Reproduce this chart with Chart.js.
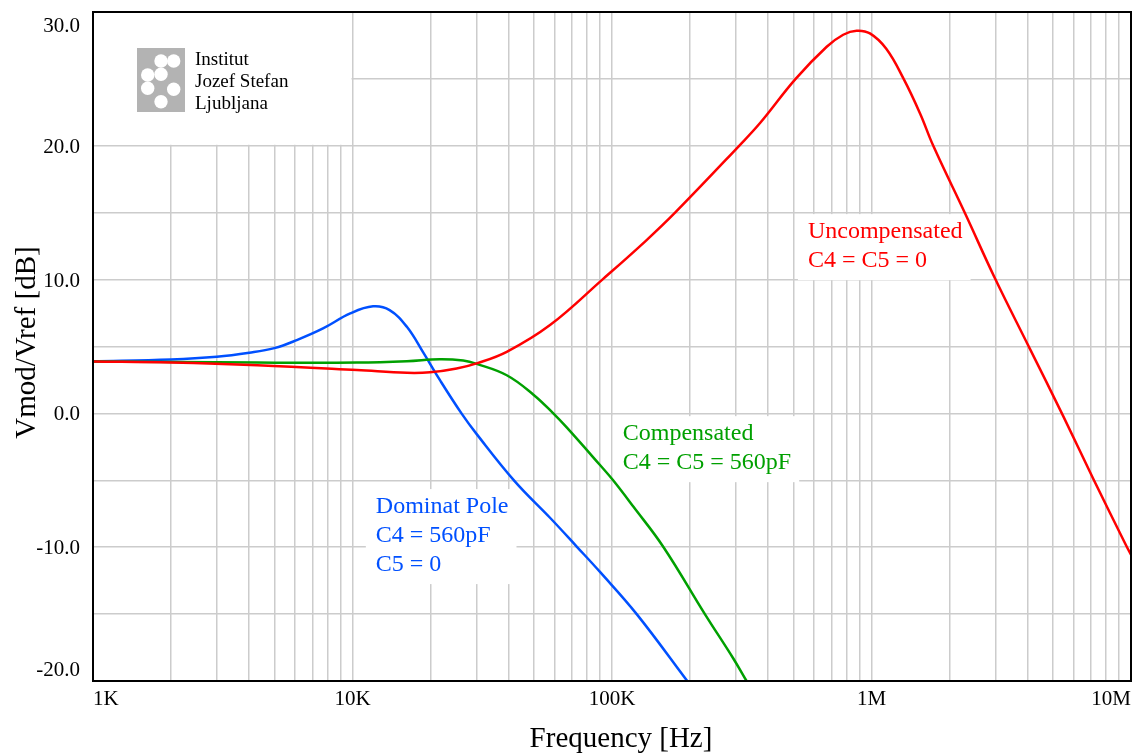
<!DOCTYPE html>
<html>
<head>
<meta charset="utf-8">
<script src="https://cdn.jsdelivr.net/npm/chart.js@4.4.1/dist/chart.umd.min.js"></script>
<style>
  html, body { margin: 0; padding: 0; background: #fff; }
</style>
</head>
<body>
<canvas id="bodeChart" width="1132" height="754"></canvas>
<script>
// Frequency response (Hz, dB)
const uncompFreq = [1e3, 2e3, 4.3e3, 1.04e4, 1.62e4, 1.99e4, 2.52e4, 3.01e4, 3.93e4, 5.77e4, 9.18e4,
  1.35e5, 1.75e5, 3.09e5, 3.72e5, 5.1e5, 6.72e5, 7.78e5, 8.76e5, 9.86e5, 1.14e6, 1.33e6, 1.54e6,
  1.73e6, 2.3e6, 2.99e6, 4.06e6, 5.48e6, 7.16e6, 9.62e6, 1e7];
const uncompDb = [3.88, 3.8, 3.6, 3.24, 3.03, 3.07, 3.36, 3.74, 4.6, 6.6, 10.0,
  12.9, 15.0, 20.0, 21.7, 25.0, 27.4, 28.3, 28.6, 28.4, 27.25, 25.0, 22.4,
  20.0, 14.9, 10.1, 4.9, -0.2, -4.9, -9.95, -10.55];

const compFreq = [1e3, 4.3e3, 1.04e4, 1.62e4, 2.17e4, 2.67e4, 3.01e4, 3.93e4, 4.98e4, 5.94e4, 6.69e4,
  8.99e4, 1.01e5, 1.21e5, 1.58e5, 2.28e5, 2.93e5, 3.3e5];
const compDb = [3.88, 3.8, 3.8, 3.9, 4.05, 3.95, 3.7, 2.85, 1.4, 0.0, -1.05,
  -3.86, -5.0, -6.98, -10.0, -15.0, -18.3, -20.0];

const domFreq = [1e3, 2e3, 3e3, 4e3, 5e3, 6.1e3, 7.7e3, 9.8e3, 1.2e4, 1.39e4, 1.62e4, 1.88e4,
  2.17e4, 2.63e4, 3.01e4, 4.23e4, 5.77e4, 7.31e4, 8.99e4, 1.245e5, 1.95e5];
const domDb = [3.9, 4.03, 4.23, 4.53, 4.88, 5.48, 6.35, 7.47, 8.0, 7.72, 6.47, 4.5,
  2.5, 0.0, -1.55, -5.1, -7.8, -9.95, -11.85, -15.0, -20.0];

// Axis ticks
const decadeTicks = [1e3, 1e4, 1e5, 1e6, 1e7];
const decadeLabels = ['1K', '10K', '100K', '1M', '10M'];
const dbLabels = [30, 20, 10, 0, -10, -20];
const dbGrid = [-20, -15, -10, -5, 0, 5, 10, 15, 20, 25, 30];

const serif = '"Liberation Serif", "Times New Roman", serif';

// Curve notes, anchored in data units (left edge of text, first baseline)
const notes = [
  { freq: 5.69e5, db: 13.1, color: '#ff0000', lines: ['Uncompensated', 'C4 = C5 = 0'] },
  { freq: 1.10e5, db: -2.0, color: '#00a000', lines: ['Compensated', 'C4 = C5 = 560pF'] },
  { freq: 1.23e4, db: -7.45, color: '#0050ff', lines: ['Dominat Pole', 'C4 = 560pF', 'C5 = 0'] }
];

function toPoints(freqs, dbs) {
  return freqs.map((f, i) => ({ x: f, y: dbs[i] }));
}

function gridFreqs() {
  const out = [];
  for (let e = 3; e < 7; e++) {
    for (let m = 1; m < 10; m++) out.push(m * Math.pow(10, e));
  }
  out.push(1e7);
  return out;
}

// Logo panel, note boxes, frame, y labels and axis titles
const decorPlugin = {
  id: 'decor',
  beforeDatasetsDraw(chart) {
    const { ctx, chartArea: a, scales: { x, y } } = chart;
    ctx.save();

    // blank panel behind the logo
    ctx.fillStyle = '#fff';
    ctx.fillRect(a.left + 1, a.top + 1, x.getPixelForValue(1e4) - a.left - 2, y.getPixelForValue(20) - a.top - 2);

    // logo
    const lx = a.left + 44, ly = a.top + 36;
    ctx.fillStyle = '#b3b3b3';
    ctx.fillRect(lx, ly, 48, 64);
    ctx.fillStyle = '#fff';
    [[24, 13], [36.7, 13], [10.7, 27], [24, 26.3], [10.7, 40.3], [36.7, 41.3], [24, 53.7]].forEach(([cx, cy]) => {
      ctx.beginPath();
      ctx.arc(lx + cx, ly + cy, 6.7, 0, Math.PI * 2);
      ctx.fill();
    });
    ctx.fillStyle = '#000';
    ctx.font = '19px ' + serif;
    ctx.textBaseline = 'alphabetic';
    ['Institut', 'Jozef Stefan', 'Ljubljana'].forEach((t, i) => ctx.fillText(t, lx + 58, ly + 17 + i * 22));

    // notes
    ctx.font = '24px ' + serif;
    notes.forEach(n => {
      const px = x.getPixelForValue(n.freq);
      const py = y.getPixelForValue(n.db);
      const w = Math.max(...n.lines.map(l => ctx.measureText(l).width));
      ctx.fillStyle = '#fff';
      ctx.fillRect(px - 10, py - 24, w + 18, (n.lines.length - 1) * 29 + 37);
      ctx.fillStyle = n.color;
      n.lines.forEach((l, i) => ctx.fillText(l, px, py + i * 29));
    });
    ctx.restore();
  },
  afterDraw(chart) {
    const { ctx, chartArea: a, scales: { y } } = chart;
    ctx.save();
    ctx.strokeStyle = '#000';
    ctx.lineWidth = 2;
    ctx.strokeRect(a.left, a.top, a.right - a.left, a.bottom - a.top);

    // y tick labels, kept inside the plot height at the ends
    ctx.fillStyle = '#000';
    ctx.font = '21px ' + serif;
    ctx.textAlign = 'right';
    ctx.textBaseline = 'middle';
    dbLabels.forEach(v => {
      let py = y.getPixelForValue(v);
      py = Math.min(Math.max(py, a.top + 13), a.bottom - 12);
      ctx.fillText(v.toFixed(1), a.left - 13, py + 1.5);
    });

    // axis titles
    ctx.font = '29px ' + serif;
    ctx.textAlign = 'center';
    ctx.textBaseline = 'alphabetic';
    ctx.fillText('Frequency [Hz]', (a.left + a.right) / 2 + 9, 747);
    ctx.translate(27, (a.top + a.bottom) / 2 - 4);
    ctx.rotate(-Math.PI / 2);
    ctx.textBaseline = 'middle';
    ctx.fillText('Vmod/Vref [dB]', 0, 0);
    ctx.restore();
  }
};

const lineStyle = {
  borderWidth: 2.5,
  pointRadius: 0,
  fill: false,
  tension: 0.4
};

new Chart(document.getElementById('bodeChart'), {
  type: 'line',
  data: {
    datasets: [
      { label: 'Uncompensated', data: toPoints(uncompFreq, uncompDb), borderColor: '#ff0000', ...lineStyle },
      { label: 'Compensated', data: toPoints(compFreq, compDb), borderColor: '#00a000', ...lineStyle },
      { label: 'Dominat Pole', data: toPoints(domFreq, domDb), borderColor: '#0050ff', ...lineStyle }
    ]
  },
  options: {
    responsive: false,
    animation: false,
    layout: { padding: { top: 12, right: 1, left: 0, bottom: 0 } },
    plugins: { legend: { display: false }, tooltip: { enabled: false } },
    scales: {
      x: {
        type: 'logarithmic',
        min: 1e3,
        max: 1e7,
        afterBuildTicks: s => { s.ticks = gridFreqs().map(v => ({ value: v })); },
        afterFit: s => { s.height = 73; s.paddingLeft = 0; s.paddingRight = 0; },
        grid: { color: '#cccccc', lineWidth: 1.5, drawTicks: false },
        border: { display: false },
        ticks: {
          autoSkip: false,
          maxRotation: 0,
          align: 'inner',
          padding: 6,
          color: '#000',
          font: { family: serif, size: 21 },
          callback: v => {
            const i = decadeTicks.findIndex(d => Math.abs(d - v) < 1e-6 * d);
            return i >= 0 ? decadeLabels[i] : '';
          }
        }
      },
      y: {
        min: -20,
        max: 30,
        afterBuildTicks: s => { s.ticks = dbGrid.map(v => ({ value: v })); },
        afterFit: s => { s.width = 93; },
        grid: { color: '#cccccc', lineWidth: 1.5, drawTicks: false },
        border: { display: false },
        ticks: { display: false }
      }
    }
  },
  plugins: [decorPlugin]
});
</script>
</body>
</html>
